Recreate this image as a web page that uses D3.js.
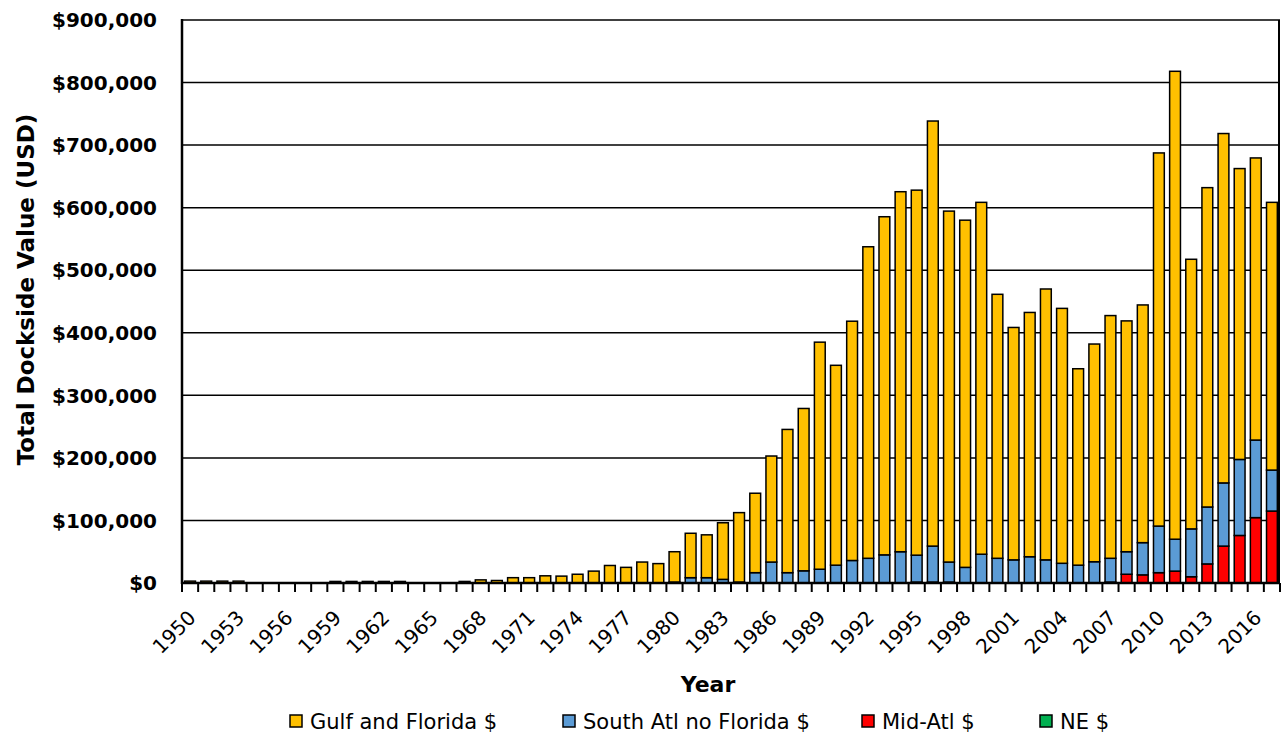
<!DOCTYPE html>
<html>
<head>
<meta charset="utf-8">
<script src="https://cdn.jsdelivr.net/npm/d3@7"></script>
<style>
  html, body { margin: 0; padding: 0; background: #fff; }
  svg { display: block; }
</style>
</head>
<body>
<svg id="chart" width="1281" height="735"></svg>
<script>
// Dockside value by region, 1950-2017, stacked bars.

const years = d3.range(1950, 2018);

const seriesNames = ["Gulf and Florida $", "South Atl no Florida $", "Mid-Atl $", "NE $"];
const seriesColors = ["#FFC000", "#5B9BD5", "#FF0000", "#00B050"];

const gulf = [
  3000, 3000, 3000, 3000, 0, 0, 0, 0, 0, 2500,            // 1950-1959
  2500, 2500, 2500, 2500, 0, 0, 0, 2500, 5000, 4000,      // 1960-1969
  8500, 8500, 11500, 11000, 14000, 19000, 28000, 25000, 33500, 31000, // 1970-1979
  48500, 71000, 68500, 90500, 111000, 127000, 169500, 229000, 259500, 363000, // 1980-1989
  319500, 382500, 498000, 540500, 575500, 583500, 679500, 561000, 555000, 562500, // 1990-1999
  422000, 371500, 390500, 433000, 407500, 314000, 348000, 388000, 369000, 380000, // 2000-2009
  596500, 748000, 431000, 510500, 558500, 465000, 451000, 428000 // 2010-2017
];

const southAtl = [
  0, 0, 0, 0, 0, 0, 0, 0, 0, 0,
  0, 0, 0, 0, 0, 0, 0, 0, 0, 0,
  0, 0, 0, 0, 0, 0, 0, 0, 0, 0,
  1500, 8500, 8500, 5800, 1500, 16500, 33500, 16500, 19500, 22000,
  28500, 36000, 39500, 45000, 50000, 43000, 57500, 32000, 25000, 46000,
  39500, 37000, 42000, 37000, 31500, 28500, 34000, 38000, 36000, 51500,
  74500, 51000, 76500, 91000, 101000, 121500, 124000, 65500
];

const midAtl = [
  0, 0, 0, 0, 0, 0, 0, 0, 0, 0,
  0, 0, 0, 0, 0, 0, 0, 0, 0, 0,
  0, 0, 0, 0, 0, 0, 0, 0, 0, 0,
  0, 0, 0, 0, 0, 0, 0, 0, 0, 0,
  0, 0, 0, 0, 0, 1500, 1500, 1500, 0, 0,
  0, 0, 0, 0, 0, 0, 0, 1500, 14000, 13000,
  16500, 19000, 10000, 30500, 59000, 76000, 104500, 115000
];

const ne = years.map(() => 0);

const yTicks = d3.range(0, 900001, 100000);
const yearLabels = years.filter(y => (y - 1950) % 3 === 0);

const FONT = "DejaVu Sans, sans-serif";
const plotLeft = 182, plotRight = 1280, plotTop = 20, plotBottom = 583;

const svg = d3.select("#chart");

const rows = years.map((yr, i) => ({
  year: yr, gulf: gulf[i], south: southAtl[i], mid: midAtl[i], ne: ne[i]
}));
// stack order bottom→top: NE, Mid-Atl, South Atl, Gulf
const keys = ["ne", "mid", "south", "gulf"];
const keyColor = { gulf: seriesColors[0], south: seriesColors[1], mid: seriesColors[2], ne: seriesColors[3] };
const stacked = d3.stack().keys(keys)(rows);

const x = d3.scaleBand()
  .domain(years)
  .range([plotLeft, plotRight])
  .paddingInner(0.33)
  .paddingOuter(0.165);

const y = d3.scaleLinear().domain([0, 900000]).range([plotBottom, plotTop]);

// gridlines
svg.append("g")
  .selectAll("line")
  .data(yTicks.slice(1))
  .join("line")
  .attr("x1", plotLeft).attr("x2", plotRight)
  .attr("y1", d => y(d)).attr("y2", d => y(d))
  .attr("stroke", "#000")
  .attr("stroke-width", 1.5);

// right frame
svg.append("line")
  .attr("x1", plotRight - 1).attr("x2", plotRight - 1)
  .attr("y1", plotTop).attr("y2", plotBottom)
  .attr("stroke", "#000").attr("stroke-width", 2);

// bars
svg.append("g")
  .selectAll("g")
  .data(stacked)
  .join("g")
  .attr("fill", d => keyColor[d.key])
  .selectAll("rect")
  .data(d => d.filter(s => s[1] - s[0] > 0))
  .join("rect")
  .attr("x", d => x(d.data.year))
  .attr("width", x.bandwidth())
  .attr("y", d => y(d[1]))
  .attr("height", d => y(d[0]) - y(d[1]))
  .attr("stroke", "#000")
  .attr("stroke-width", 1.5);

// y axis
svg.append("line")
  .attr("x1", plotLeft).attr("x2", plotLeft)
  .attr("y1", plotTop - 1).attr("y2", plotBottom + 1)
  .attr("stroke", "#000").attr("stroke-width", 2.5);

svg.append("g")
  .selectAll("text")
  .data(yTicks)
  .join("text")
  .attr("x", 157)
  .attr("y", d => y(d))
  .attr("dy", "0.36em")
  .attr("text-anchor", "end")
  .attr("font-family", FONT)
  .attr("font-size", "20px")
  .attr("font-weight", "bold")
  .attr("fill", "#000")
  .text(d => "$" + d3.format(",")(d));

// x axis
svg.append("line")
  .attr("x1", plotLeft - 1).attr("x2", plotRight)
  .attr("y1", plotBottom).attr("y2", plotBottom)
  .attr("stroke", "#000").attr("stroke-width", 2.5);

const step = x.step();
svg.append("g")
  .selectAll("line")
  .data(d3.range(years.length + 1))
  .join("line")
  .attr("x1", i => plotLeft + i * step).attr("x2", i => plotLeft + i * step)
  .attr("y1", plotBottom).attr("y2", plotBottom + 9)
  .attr("stroke", "#000")
  .attr("stroke-width", 2);

svg.append("g")
  .selectAll("text")
  .data(yearLabels)
  .join("text")
  .attr("transform", d => {
    const cx = x(d) + x.bandwidth() / 2 + 7;
    return `translate(${cx},${plotBottom + 36}) rotate(-45)`;
  })
  .attr("text-anchor", "end")
  .attr("font-family", FONT)
  .attr("font-size", "20px")
  .attr("fill", "#000")
  .text(d => d);

// axis titles
svg.append("text")
  .attr("transform", `translate(34,${(plotTop + plotBottom) / 2 - 12}) rotate(-90)`)
  .attr("text-anchor", "middle")
  .attr("font-family", FONT)
  .attr("font-size", "23px")
  .attr("font-weight", "bold")
  .text("Total Dockside Value (USD)");

svg.append("text")
  .attr("x", 708).attr("y", 692)
  .attr("text-anchor", "middle")
  .attr("font-family", FONT)
  .attr("font-size", "22px")
  .attr("font-weight", "bold")
  .text("Year");

// legend
const legendX = [290, 563, 862, 1040];
const legend = svg.append("g")
  .selectAll("g")
  .data(seriesNames)
  .join("g")
  .attr("transform", (d, i) => `translate(${legendX[i]},715)`);

legend.append("rect")
  .attr("width", 12).attr("height", 12)
  .attr("fill", (d, i) => seriesColors[i])
  .attr("stroke", "#000")
  .attr("stroke-width", 1.5);

legend.append("text")
  .attr("x", 20).attr("y", 6)
  .attr("dy", "0.36em")
  .attr("font-family", FONT)
  .attr("font-size", "21px")
  .attr("fill", "#000")
  .text(d => d);
</script>
</body>
</html>
